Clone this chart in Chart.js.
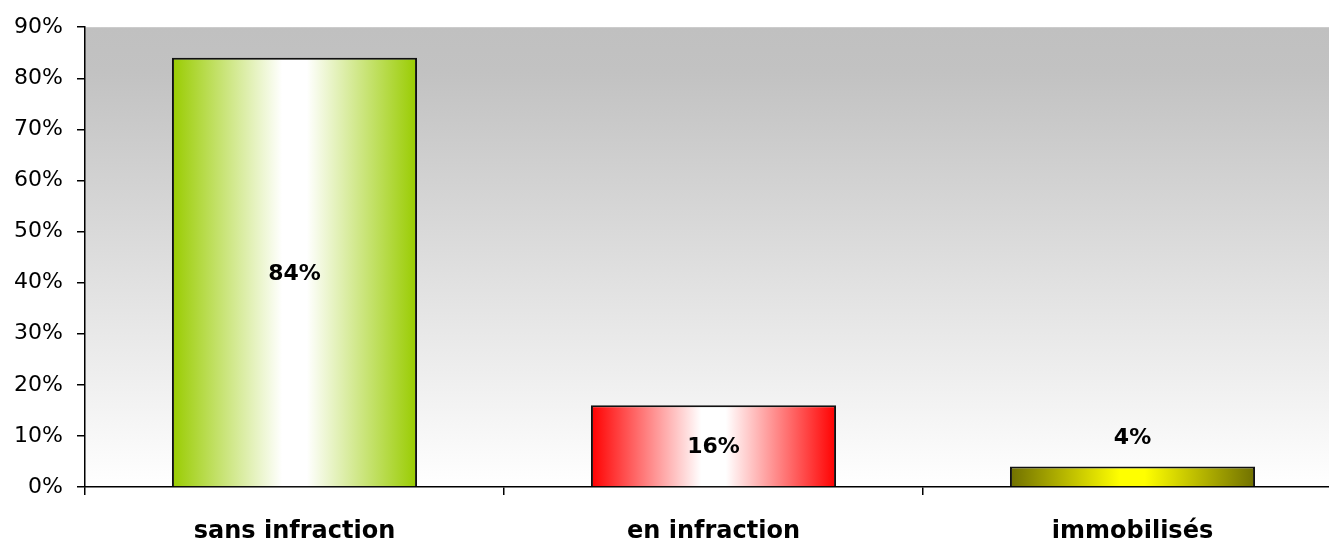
<!DOCTYPE html>
<html>
<head>
<meta charset="utf-8">
<script src="https://cdn.jsdelivr.net/npm/chart.js@4"></script>
<style>
  html, body { margin: 0; padding: 0; background: #fff; overflow: hidden; }
  #wrap { width: 1342px; height: 546px; }
</style>
</head>
<body>
<div id="wrap"><canvas id="grafico"></canvas></div>
<script>
// Donnees
const categories = ['sans infraction', 'en infraction', 'immobilisés'];
const valeurs = [84, 16, 4];
const couleursBord = ['#99cc00', '#ff0000', '#707000'];
const couleursCentre = ['#ffffff', '#ffffff', '#ffff00'];
const largeurBarre = 0.585;

// Fond degrade de la zone de trace
const fondPlugin = {
  id: 'fond',
  beforeDraw(chart) {
    const { ctx, chartArea: a } = chart;
    const g = ctx.createLinearGradient(0, a.top, 0, a.bottom);
    g.addColorStop(0, '#c0c0c0');
    g.addColorStop(0.1, '#c2c2c2');
    g.addColorStop(1, '#ffffff');
    ctx.save();
    ctx.fillStyle = g;
    ctx.fillRect(a.left, a.top, a.right - a.left, a.bottom - a.top);
    ctx.restore();
  }
};

// Etiquettes de valeur
const etiquettesPlugin = {
  id: 'etiquettes',
  afterDatasetsDraw(chart) {
    const { ctx } = chart;
    const meta = chart.getDatasetMeta(0);
    ctx.save();
    ctx.font = 'bold 22px "DejaVu Sans"';
    ctx.fillStyle = '#000';
    ctx.textAlign = 'center';
    ctx.textBaseline = 'middle';
    meta.data.forEach((bar, i) => {
      const h = bar.base - bar.y;
      let y = (bar.y + bar.base) / 2 + 2;
      if (h < 40) y = bar.y - 28;
      ctx.fillText(valeurs[i] + '%', bar.x, y);
    });
    ctx.restore();
  }
};

// Degrade horizontal de chaque barre
function degradeBarre(context) {
  const chart = context.chart;
  const i = context.dataIndex;
  const sx = chart.scales.x;
  if (!chart.chartArea || !sx) return couleursBord[i];
  const cx = sx.getPixelForValue(i);
  const w = (sx.width / categories.length) * largeurBarre;
  if (!isFinite(cx) || !isFinite(w)) return couleursBord[i];
  const g = chart.ctx.createLinearGradient(cx - w / 2, 0, cx + w / 2, 0);
  g.addColorStop(0, couleursBord[i]);
  g.addColorStop(0.45, couleursCentre[i]);
  g.addColorStop(0.55, couleursCentre[i]);
  g.addColorStop(1, couleursBord[i]);
  return g;
}

const ctx = document.getElementById('grafico').getContext('2d');
const grafico = new Chart(ctx, {
  type: 'bar',
  data: {
    labels: categories,
    datasets: [{
      data: valeurs,
      backgroundColor: degradeBarre,
      borderColor: '#111',
      borderWidth: 2,
      barPercentage: largeurBarre,
      categoryPercentage: 1
    }]
  },
  options: {
    responsive: true,
    maintainAspectRatio: false,
    animation: false,
    layout: { padding: { top: 27, right: 0, left: 0, bottom: 0 } },
    plugins: { legend: { display: false }, tooltip: { enabled: false } },
    scales: {
      x: {
        afterFit: s => { s.height = 59; },
        border: { color: '#000', width: 1.5 },
        grid: { offset: true, drawOnChartArea: false, color: '#000', lineWidth: 1.5, tickLength: 8 },
        ticks: { color: '#000', font: { family: 'DejaVu Sans', size: 24, weight: 'bold' }, padding: 22 }
      },
      y: {
        min: 0,
        max: 90,
        afterFit: s => { s.width = 85; },
        border: { color: '#000', width: 1.5 },
        grid: { drawOnChartArea: false, color: '#000', lineWidth: 1.5, tickLength: 8 },
        ticks: {
          stepSize: 10,
          color: '#000',
          padding: 14,
          font: { family: 'DejaVu Sans', size: 22 },
          callback: v => v + '%'
        }
      }
    }
  },
  plugins: [fondPlugin, etiquettesPlugin]
});
</script>
</body>
</html>
